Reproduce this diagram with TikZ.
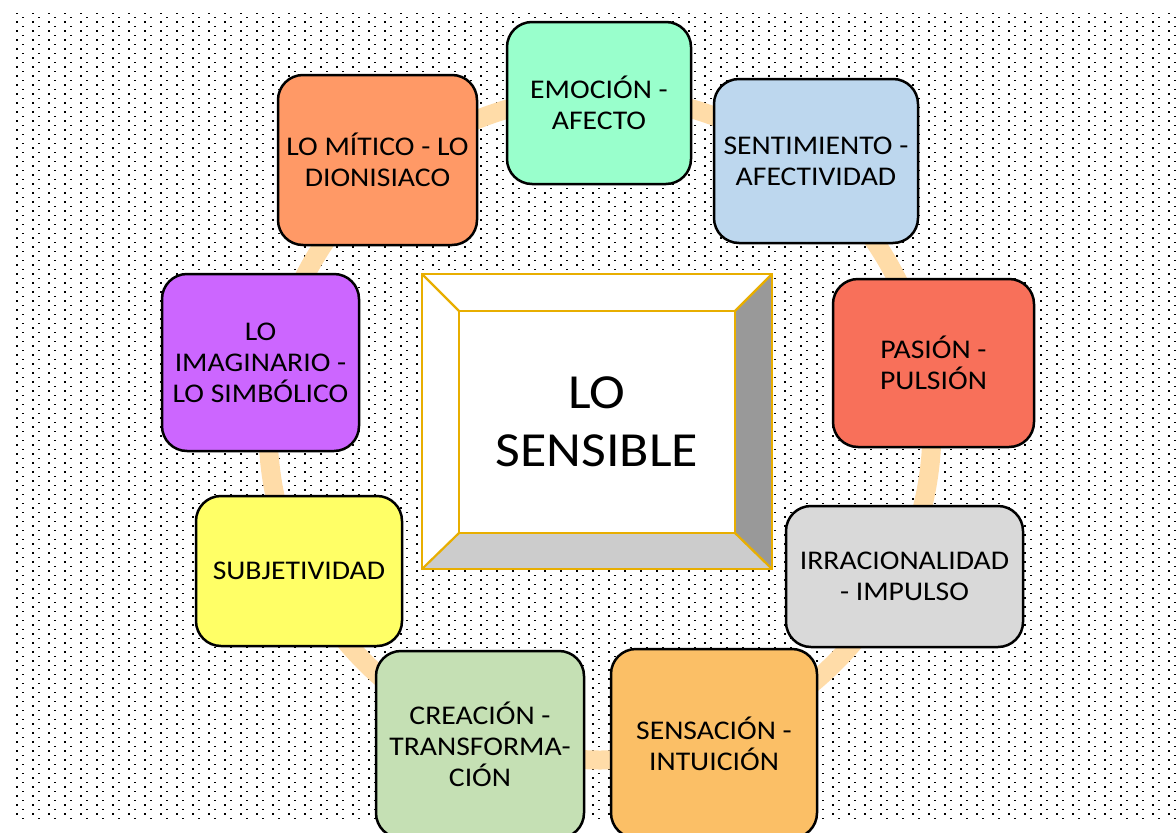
\documentclass[tikz,border=0pt]{standalone}
\usepackage{fontspec}
\setmainfont{Carlito}[FakeStretch=1.1]
\usetikzlibrary{patterns.meta}
\definecolor{ringc}{HTML}{FFDCA8}
\definecolor{goldc}{HTML}{E8AE00}
\definecolor{bevR}{HTML}{999999}
\definecolor{bevB}{HTML}{CCCCCC}
\definecolor{cA}{HTML}{99FFCC}
\definecolor{cB}{HTML}{BDD7EE}
\definecolor{cC}{HTML}{F8705A}
\definecolor{cD}{HTML}{D9D9D9}
\definecolor{cE}{HTML}{FBBF66}
\definecolor{cF}{HTML}{C5E0B4}
\definecolor{cG}{HTML}{FFFF66}
\definecolor{cH}{HTML}{CC66FF}
\definecolor{cI}{HTML}{FF9966}
\tikzdeclarepattern{
  name=bgdots,
  type=uncolored,
  bottom left={(-0.5pt,-0.5pt)},
  top right={(15.5pt,8.5pt)},
  tile size={(16pt,9pt)},
  code={
    \fill (0pt,0pt) rectangle (1.7pt,1.7pt);
    \fill (6pt,4.5pt) rectangle (7.7pt,6.2pt);
  }
}
\tikzset{
  item/.style={draw=black, line width=2.5pt, rounded corners=25pt, inner sep=0pt,
    align=center, font=\fontsize{27}{31}\selectfont},
  ringline/.style={draw=ringc, line width=19pt},
  bevelline/.style={draw=goldc, line width=2.2pt, line join=miter},
}
\begin{document}
\begin{tikzpicture}[x=1pt,y=-1pt]
\useasboundingbox (0,0) rectangle (1176,833);
\clip (0,0) rectangle (1176,833);
\fill[white] (0,0) rectangle (1176,833);
\fill[pattern=bgdots, pattern color=black] (8,13) rectangle (1176,821);
% ring
\coordinate (ringcenter) at (600,428);
\draw[ringline] (ringcenter) circle[radius=332];
% outer boxes
\node[item, fill=cA, minimum width=184pt, minimum height=162pt] (n1) at (599,103) {EMOCIÓN -\\AFECTO};
\node[item, fill=cB, minimum width=204pt, minimum height=164pt] (n2) at (816,161) {SENTIMIENTO -\\AFECTIVIDAD};
\node[item, fill=cC, minimum width=201pt, minimum height=168pt] (n3) at (933.5,363) {PASIÓN -\\PULSIÓN};
\node[item, fill=cD, minimum width=237pt, minimum height=141pt] (n4) at (904.5,576.5) {IRRACIONALIDAD\\- IMPULSO};
\node[item, fill=cE, minimum width=206pt, minimum height=189pt] (n5) at (714,743.5) {SENSACIÓN -\\INTUICIÓN};
\node[item, fill=cF, minimum width=208pt, minimum height=187pt] (n6) at (480,744.5) {CREACIÓN -\\TRANSFORMA-\\CIÓN};
\node[item, fill=cG, minimum width=206pt, minimum height=150pt] (n7) at (299,571) {SUBJETIVIDAD};
\node[item, fill=cH, minimum width=197pt, minimum height=177pt] (n8) at (260.5,362.5) {LO\\IMAGINARIO -\\LO SIMBÓLICO};
\node[item, fill=cI, minimum width=199pt, minimum height=170pt] (n9) at (377.5,160) {LO MÍTICO - LO\\DIONISIACO};
% central bevel box
\coordinate (o1) at (422,274);
\coordinate (o2) at (772,274);
\coordinate (o3) at (772,569);
\coordinate (o4) at (422,569);
\coordinate (i1) at (459,311);
\coordinate (i2) at (735,311);
\coordinate (i3) at (735,533);
\coordinate (i4) at (459,533);
\fill[white] (o1) rectangle (o3);
\fill[bevR] (i2) -- (o2) -- (o3) -- (i3) -- cycle;
\fill[bevB] (i4) -- (i3) -- (o3) -- (o4) -- cycle;
\draw[bevelline] (o1) rectangle (o3);
\draw[bevelline] (i1) rectangle (i3);
\draw[bevelline] (o1) -- (i1) (o2) -- (i2) (o3) -- (i3) (o4) -- (i4);
\node[font=\fontsize{49}{58}\selectfont, align=center, inner sep=0pt] (center) at (597,422) {LO\\SENSIBLE};
\end{tikzpicture}
\end{document}
